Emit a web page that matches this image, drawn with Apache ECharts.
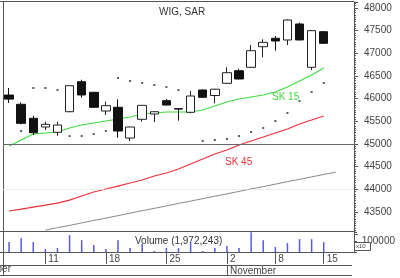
<!DOCTYPE html>
<html><head><meta charset="utf-8">
<script src="https://cdn.jsdelivr.net/npm/echarts@6/dist/echarts.min.js"></script>
<style>html,body{margin:0;padding:0;background:#fff}#c{width:400px;height:278px}</style>
</head><body><div id="c"></div>
<script>
const dates = ['2010-10-06','2010-10-07','2010-10-08','2010-10-11','2010-10-12','2010-10-13','2010-10-14','2010-10-15',
  '2010-10-18','2010-10-19','2010-10-20','2010-10-21','2010-10-22','2010-10-25','2010-10-26','2010-10-27','2010-10-28','2010-10-29',
  '2010-11-02','2010-11-03','2010-11-04','2010-11-05','2010-11-08','2010-11-09','2010-11-10','2010-11-12','2010-11-15'];
const padCats = [' ', '  '];
const monthNames = ['January','February','March','April','May','June','July','August','September','October','November','December'];
const opens  = [46080,45876,45567,45375,45258,45712,46374,46140,45728,45810,45132,45545,45662,45955,45780,45699,46191,46070,46339,46617,46692,47146,47332,47294,47647,46692,47477];
const closes = [45990,45456,45249,45434,45419,46286,46081,45810,45845,45287,45375,45853,45712,45860,45770,46059,46030,46209,46573,46434,47058,47243,47272,47735,47294,47500,47221];
const lows   = [45905,45434,45198,45309,45183,45705,46021,45800,45640,45139,45066,45492,45485,45850,45514,45677,46020,45898,46330,46425,46685,46912,47058,47184,47290,46632,47210];
const highs  = [46235,45920,45624,45492,45492,46290,46418,46150,45933,45986,45380,45860,45720,45993,45785,46169,46200,46215,46692,46661,47184,47310,47382,47750,47676,47510,47490];
const sar    = [null,45287,46235,46235,46191,45176,45176,45220,45287,46456,46390,46346,46301,46257,46191,null,45066,45088,45110,45176,45265,45353,45507,45684,45949,46147,46346];
const sk15   = [44956,45088,45220,45243,45265,45353,45419,45463,45507,45551,45595,45662,45684,45706,45706,45706,45750,45838,45926,45993,46037,46081,46147,46257,46390,46522,46677];
const sk45   = [43522,43566,43610,43654,43698,43764,43853,43941,44007,44073,44140,44206,44294,44360,44448,44559,44669,44779,44867,44978,45066,45154,45243,45331,45441,45529,45617];
const longMa = [null,null,null,43100,43155,43205,43260,43315,43365,43420,43475,43530,43580,43635,43690,43740,43795,43850,43900,43955,44010,44060,44115,44170,44220,44275,44330,44380];
const volumes = [90000,126000,90000,27000,36000,153000,108000,63000,27000,108000,36000,72000,9000,36000,36000,90000,9000,36000,54000,36000,180000,108000,45000,81000,117000,117000,90000];
const yTicks = [43500,44000,44500,45000,45500,46000,46500,47000,47500,48000];
const volTick = 100000;
const volLabel = 'Volume (1,972,243)';
const titleText = 'WIG, SAR';

const cats = dates.concat(padCats);
const dow = i => new Date(cats[i] + 'T00:00:00Z').getUTCDay();
const isReal = i => i < dates.length;
const weekStart = i => isReal(i) && i > 0 && dow(i) < dow(i - 1);
const monthStart = i => isReal(i) && i > 0 && cats[i].slice(5,7) !== cats[i-1].slice(5,7);
const FONT = "'Liberation Sans', Arial, sans-serif";
const AX = '#555';

const chart = echarts.init(document.getElementById('c'), null, {renderer: 'canvas'});
const gridL = 3, gridW = 351;
const volMax = 182000;
chart.setOption({
  animation: false,
  backgroundColor: '#fff',
  title: {text: titleText, left: 154, top: 2, textStyle: {fontSize: 10, fontWeight: 'normal', color: '#333', fontFamily: FONT}},
  grid: [
    {left: gridL, top: 2, width: gridW, height: 232.7},
    {left: gridL, top: 232, width: gridW, height: 20}
  ],
  xAxis: [
    {type: 'category', gridIndex: 0, data: cats, boundaryGap: true, axisLine: {show: false}, axisTick: {show: false}, axisLabel: {show: false}, splitLine: {show: false}},
    {type: 'category', gridIndex: 1, data: cats, boundaryGap: true, position: 'bottom',
      axisLine: {show: false},
      axisTick: {show: true, alignWithLabel: true, interval: (i) => weekStart(i), length: 12, lineStyle: {color: AX}},
      axisLabel: {show: true, interval: (i) => weekStart(i), formatter: v => String(parseInt(v.slice(8), 10)), align: 'left', padding: [0,0,0,3], margin: 2, fontSize: 10, color: '#444', fontFamily: FONT},
      splitLine: {show: false}},
    {type: 'category', gridIndex: 1, data: cats, boundaryGap: true, position: 'bottom', offset: 13,
      axisLine: {show: false},
      axisTick: {show: true, alignWithLabel: true, interval: (i) => monthStart(i), length: 10, lineStyle: {color: AX}},
      axisLabel: {show: true, interval: (i) => monthStart(i), formatter: v => monthNames[parseInt(v.slice(5,7),10)-1] || '', align: 'left', padding: [0,0,0,3], margin: 1, fontSize: 10, color: '#444', fontFamily: FONT},
      splitLine: {show: false}}
  ],
  yAxis: [
    {type: 'value', gridIndex: 0, position: 'right', min: 43000, max: 48132, interval: 500, scale: true,
      axisLine: {show: true, lineStyle: {color: AX}},
      axisTick: {show: true, length: 4, lineStyle: {color: AX}},
      minorTick: {show: true, splitNumber: 10, length: 2, lineStyle: {color: AX}},
      axisLabel: {show: true, margin: 10, fontSize: 10, color: '#444', fontFamily: FONT, showMaxLabel: false,
        formatter: v => yTicks.indexOf(v) >= 0 ? String(v) : ''},
      splitLine: {show: false}},
    {type: 'value', gridIndex: 1, position: 'right', min: 0, max: volMax, interval: volTick,
      axisLine: {show: true, lineStyle: {color: AX}},
      axisTick: {show: true, length: 3, lineStyle: {color: AX}},
      axisLabel: {show: false},
      splitLine: {show: false}}
  ],
  series: [
    {type: 'line', xAxisIndex: 0, yAxisIndex: 0, data: longMa, showSymbol: false, symbol: 'none', lineStyle: {color: '#8a8a8a', width: 1}, z: 2,
      markLine: {silent: true, symbol: 'none', label: {show: false},
        data: [{yAxis: 45000, lineStyle: {color: '#666', type: 'solid', width: 1}}, {yAxis: 44000, lineStyle: {color: '#dddddd', type: 'dotted', width: 1}}]}},
    {type: 'line', xAxisIndex: 0, yAxisIndex: 0, data: sk45, showSymbol: false, symbol: 'none', lineStyle: {color: '#e8303a', width: 1.2}, z: 3},
    {type: 'line', xAxisIndex: 0, yAxisIndex: 0, data: sk15, showSymbol: false, symbol: 'none', lineStyle: {color: '#3ddc3d', width: 1.1}, z: 3},
    {type: 'candlestick', xAxisIndex: 0, yAxisIndex: 0, barWidth: 9, z: 4,
      data: opens.map((o, i) => [o, closes[i], lows[i], highs[i]]),
      itemStyle: {color: '#ffffff', color0: '#111111', borderColor: '#222222', borderColor0: '#111111', borderWidth: 1}},
    {type: 'scatter', xAxisIndex: 0, yAxisIndex: 0, data: sar, symbol: 'rect', symbolSize: 2, itemStyle: {color: '#333'}, z: 5},
    {type: 'bar', xAxisIndex: 1, yAxisIndex: 1, data: volumes, barWidth: 1.5, itemStyle: {color: '#5a5ae0'}}
  ],
  graphic: [
    {type: 'line', shape: {x1: 0, y1: 1.5, x2: 354, y2: 1.5}, style: {stroke: AX, lineWidth: 1}},
    {type: 'line', shape: {x1: 3.5, y1: 1, x2: 3.5, y2: 276}, style: {stroke: AX, lineWidth: 1}},
    {type: 'line', shape: {x1: 0, y1: 231.5, x2: 354, y2: 231.5}, style: {stroke: AX, lineWidth: 1}},
    {type: 'line', shape: {x1: 0, y1: 252.5, x2: 354, y2: 252.5}, style: {stroke: AX, lineWidth: 1}},
    {type: 'line', shape: {x1: 0, y1: 265.5, x2: 352, y2: 265.5}, style: {stroke: AX, lineWidth: 1}},
    {type: 'line', shape: {x1: 0, y1: 275.5, x2: 352, y2: 275.5}, style: {stroke: AX, lineWidth: 1}},
    {type: 'text', x: 135, y: 236, style: {text: volLabel, fill: '#333', font: '10px ' + FONT}},
    {type: 'text', x: 272, y: 92, style: {text: 'SK 15', fill: '#3ddc3d', font: '10px ' + FONT}},
    {type: 'text', x: 225, y: 157, style: {text: 'SK 45', fill: '#e8303a', font: '10px ' + FONT}},
    {type: 'text', x: 11, y: 264, style: {text: monthNames[9], fill: '#444', font: '10px ' + FONT, textAlign: 'right'}},
    {type: 'text', x: 395, y: 252 - 20 * volTick / volMax, style: {text: String(volTick), fill: '#444', font: '10px ' + FONT, textAlign: 'right', textVerticalAlign: 'middle'}},
    {type: 'rect', shape: {x: 354.5, y: 242.5, width: 16, height: 8}, style: {fill: '#fff', stroke: AX, lineWidth: 1}},
    {type: 'text', x: 356, y: 243, style: {text: 'x10', fill: '#444', font: '6px ' + FONT}}
  ]
});
</script></body></html>
